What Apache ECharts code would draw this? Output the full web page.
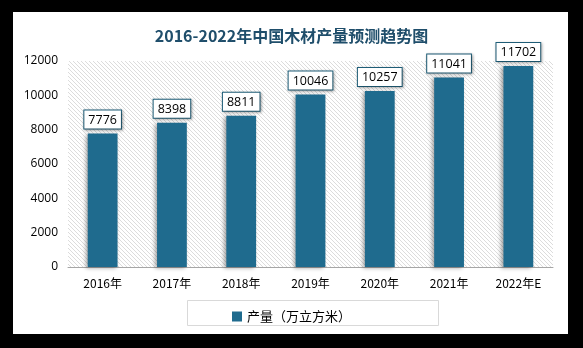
<!DOCTYPE html>
<html><head><meta charset="utf-8">
<script src="https://cdn.jsdelivr.net/npm/echarts@6/dist/echarts.min.js"></script>
<style>html,body{margin:0;padding:0;background:#000;}#c{width:583px;height:348px;}</style>
</head><body><div id="c"></div>
<script>
const categories = ['2016年','2017年','2018年','2019年','2020年','2021年','2022年E'];
const production = [7776, 8398, 8811, 10046, 10257, 11041, 11702];
const seriesName = '产量（万立方米）';
const titleText = '2016-2022年中国木材产量预测趋势图';

// diagonal hatch pattern
const P = 4;
const pc = document.createElement('canvas');
pc.width = P; pc.height = P;
const g = pc.getContext('2d');
g.fillStyle = '#ffffff'; g.fillRect(0,0,P,P);
g.strokeStyle = '#dcdcdc'; g.lineWidth = 1;
g.beginPath();
g.moveTo(0,0); g.lineTo(P,P);
g.moveTo(-P,0); g.lineTo(P,2*P);
g.moveTo(0,-P); g.lineTo(2*P,P);
g.stroke();

const chart = echarts.init(document.getElementById('c'), null, {renderer:'canvas'});
chart.setOption({
  backgroundColor: '#000',
  animation: false,
  graphic: [
    {type:'rect', z:-10, shape:{x:13,y:12,width:555,height:322}, style:{fill:'#fff'}},
    {type:'rect', z:-5, shape:{x:187.5,y:300.5,width:251,height:25}, style:{fill:'#fff', stroke:'#d9d9d9', lineWidth:1}}
  ],
  title: {
    text: titleText, left: 'center', top: 23,
    textStyle: {fontSize: 16, fontWeight: 'bold', color: '#1f4e6b', fontFamily: 'Noto Sans CJK SC'}
  },
  legend: {
    data: [seriesName], left: 'center', top: 305, itemWidth: 10, itemHeight: 10, icon: 'rect',
    textStyle: {fontSize: 13, color: '#000', fontFamily: 'Noto Sans CJK SC'}
  },
  grid: {left: 68, right: 30, top: 61, bottom: 81, show: true, borderWidth: 0,
    backgroundColor: {image: pc, repeat: 'repeat'}},
  xAxis: {
    type: 'category', data: categories,
    axisLine: {lineStyle: {color: '#a6a6a6'}}, axisTick: {show: false},
    axisLabel: {color: '#000', fontSize: 12, margin: 10, fontFamily: 'Noto Sans CJK SC'}
  },
  yAxis: {
    type: 'value', min: 0, max: 12000, interval: 2000,
    splitLine: {show: false}, axisLine: {show: false}, axisTick: {show: false},
    axisLabel: {color: '#000', fontSize: 12, margin: 10, fontFamily: 'Open Sans', formatter: v => String(v)}
  },
  series: [{
    name: seriesName, type: 'bar', data: production, barWidth: '43%',
    itemStyle: {color: '#1f6b8e', shadowBlur: 4, shadowColor: 'rgba(0,0,0,0.35)', shadowOffsetX: -2, shadowOffsetY: 1},
    label: {
      show: true, position: 'top', distance: 5, color: '#000', fontSize: 12.5, fontFamily: 'Open Sans',
      backgroundColor: '#fff', borderColor: '#1f5f7a', borderWidth: 1, padding: [3, 4, 2, 4],
      shadowBlur: 3, shadowColor: 'rgba(0,0,0,0.3)', shadowOffsetX: 1, shadowOffsetY: 1
    }
  }]
});
</script></body></html>
